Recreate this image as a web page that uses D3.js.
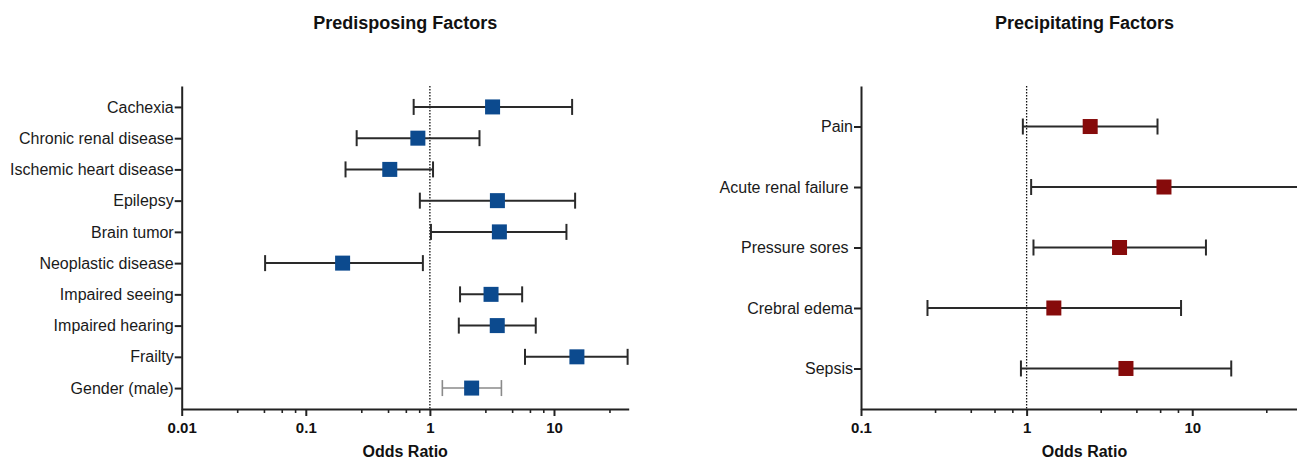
<!DOCTYPE html>
<html>
<head>
<meta charset="utf-8">
<script src="https://cdn.jsdelivr.net/npm/d3@7"></script>
<style>
  html, body { margin: 0; padding: 0; background: #fff; }
  svg { display: block; font-family: "Liberation Sans", Arial, sans-serif; }
  .ylab text { white-space: pre; }
</style>
</head>
<body>
<svg id="chart" width="1297" height="460"></svg>
<script>
// ---- Data ----
const leftTitle = "Predisposing Factors";
const leftCats = ["Cachexia", "Chronic renal disease", "Ischemic heart disease", "Epilepsy", "Brain tumor",
  "Neoplastic disease", "Impaired seeing", "Impaired hearing", "Frailty", "Gender (male)"];
const leftOR   = [3.2, 0.80, 0.475, 3.5, 3.63, 0.198, 3.11, 3.49, 15.3, 2.17];
const leftLow  = [0.74, 0.257, 0.209, 0.83, 1.02, 0.047, 1.75, 1.71, 5.84, 1.26];
const leftHigh = [14.0, 2.51, 1.06, 14.8, 12.6, 0.878, 5.54, 7.13, 39.2, 3.77];
const leftMajorTicks = [0.01, 0.1, 1, 10];
const leftMinorTicks = [0.028, 0.046, 0.064, 0.082, 0.28, 0.46, 0.64, 0.82, 2.8, 4.6, 6.4, 8.2, 28];

const rightTitle = "Precipitating Factors";
const rightCats = ["Pain", "Acute renal failure ", "Pressure sores ", "Crebral edema", "Sepsis"];
const rightOR   = [2.42, 6.75, 3.64, 1.46, 3.98];
const rightLow  = [0.949, 1.065, 1.10, 0.252, 0.924];
const rightHigh = [6.17, 60, 12.1, 8.56, 17.2];
const rightMajorTicks = [0.1, 1, 10];
const rightMinorTicks = [0.28, 0.46, 0.64, 0.82, 2.8, 4.6, 6.4, 8.2, 28, 46];

const xLabel = "Odds Ratio";

// ---- Drawing ----
const svg = d3.select("#chart");
const plotTop = 86, plotBottom = 409;

function panel(opts) {
  const g = svg.append("g");
  const x = d3.scaleLog().domain(opts.domain).range(opts.range);
  const y = d3.scalePoint().domain(opts.cats).range([plotTop, plotBottom]).padding(0.67);

  // reference line at OR = 1
  g.append("line")
    .attr("x1", x(1)).attr("x2", x(1))
    .attr("y1", plotTop).attr("y2", plotBottom)
    .attr("stroke", "#111").attr("stroke-width", 1.3)
    .attr("stroke-dasharray", "1.5,1.5");

  // whiskers
  const rows = opts.cats.map((c, i) => ({c, or: opts.or[i], lo: opts.lo[i], hi: opts.hi[i], i}));
  const wg = g.append("g");
  rows.forEach(d => {
    const col = (opts.lightRow === d.i) ? "#8a8a8a" : "#2a2a2a";
    const sw = (opts.lightRow === d.i) ? 1.6 : 2;
    wg.append("line").attr("x1", x(d.lo)).attr("x2", x(d.hi))
      .attr("y1", y(d.c)).attr("y2", y(d.c)).attr("stroke", col).attr("stroke-width", sw);
    [d.lo, d.hi].forEach(v => {
      wg.append("line").attr("x1", x(v)).attr("x2", x(v))
        .attr("y1", y(d.c) - 8).attr("y2", y(d.c) + 8)
        .attr("stroke", col).attr("stroke-width", sw);
    });
  });

  // markers
  const s = 15;
  g.append("g").selectAll("rect").data(rows).join("rect")
    .attr("x", d => x(d.or) - s / 2).attr("y", d => y(d.c) - s / 2)
    .attr("width", s).attr("height", s)
    .attr("fill", opts.color);

  // x axis: minor ticks
  const xg = g.append("g").attr("transform", `translate(0,${plotBottom})`);
  xg.append("g")
    .call(d3.axisBottom(x).tickValues(opts.minor).tickSize(4).tickSizeOuter(0).tickFormat(""))
    .call(a => a.select(".domain").remove())
    .call(a => a.selectAll("line").attr("stroke", "#222").attr("stroke-width", 1.6));
  xg.append("g")
    .call(d3.axisBottom(x).tickValues(opts.major).tickSize(7).tickSizeOuter(0).tickPadding(6)
      .tickFormat(d => String(d)))
    .call(a => a.select(".domain").attr("stroke", "#222").attr("stroke-width", 2))
    .call(a => a.selectAll("line").attr("stroke", "#222").attr("stroke-width", 2))
    .call(a => a.selectAll("text").attr("fill", "#111").attr("font-size", 15)
      .attr("font-weight", "bold").attr("font-family", "Liberation Sans, Arial, sans-serif"));

  // y axis
  g.append("g").attr("class", "ylab").attr("transform", `translate(${opts.range[0]},0)`)
    .call(d3.axisLeft(y).tickSize(7).tickSizeOuter(0).tickPadding(1))
    .call(a => a.select(".domain").attr("stroke", "#222").attr("stroke-width", 2))
    .call(a => a.selectAll("line").attr("stroke", "#222").attr("stroke-width", 2))
    .call(a => a.selectAll("text").attr("fill", "#1a1a1a").attr("font-size", 16)
      .attr("font-family", "Liberation Sans, Arial, sans-serif"));

  const cx = (opts.range[0] + opts.range[1]) / 2;
  g.append("text").attr("x", cx).attr("y", 29).attr("text-anchor", "middle")
    .attr("font-size", 18).attr("font-weight", "bold").attr("fill", "#111").text(opts.title);
  g.append("text").attr("x", cx).attr("y", 457).attr("text-anchor", "middle")
    .attr("font-size", 16).attr("font-weight", "bold").attr("fill", "#111").text(xLabel);
}

panel({
  title: leftTitle, cats: leftCats, or: leftOR, lo: leftLow, hi: leftHigh,
  domain: [0.01, 40], range: [181.7, 628.7], major: leftMajorTicks, minor: leftMinorTicks,
  color: "#0c4a8e", lightRow: 9
});
panel({
  title: rightTitle, cats: rightCats, or: rightOR, lo: rightLow, hi: rightHigh,
  domain: [0.1, 50], range: [861, 1308], major: rightMajorTicks, minor: rightMinorTicks,
  color: "#860b0b", lightRow: -1
});
</script>
</body>
</html>
